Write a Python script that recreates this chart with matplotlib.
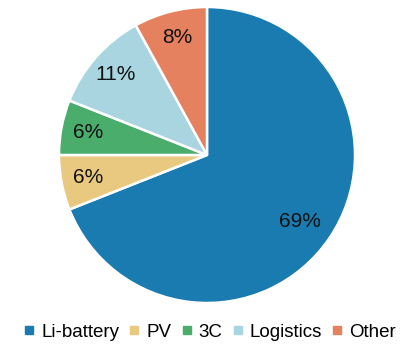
import matplotlib
matplotlib.use("Agg")
import matplotlib.pyplot as plt
from matplotlib.lines import Line2D

categories = ["Li-battery", "PV", "3C", "Logistics", "Other"]
shares = [69, 6, 6, 11, 8]
colors = ["#1a7bb1", "#e9c97f", "#4bad6b", "#a9d5e0", "#e5815f"]

plt.rcParams['font.family'] = ['Liberation Sans', 'DejaVu Sans']

fig = plt.figure(figsize=(4.18, 3.52), dpi=100)
W, H = 418, 352
cx, cy, r = 207, 155, 148
ax = fig.add_axes([(cx - r) / W, (H - cy - r) / H, 2 * r / W, 2 * r / H])

wedges, texts, autotexts = ax.pie(
    shares, colors=colors, startangle=90, counterclock=False,
    autopct=lambda p: f"{p:.0f}%", pctdistance=0.82,
    wedgeprops=dict(edgecolor="white", linewidth=1.8),
    textprops=dict(fontsize=15, color="#111111"))
# big slice label a bit closer to center
autotexts[0].set_position((autotexts[0].get_position()[0] * 0.93,
                           autotexts[0].get_position()[1] * 0.98))
ax.set_xlim(-1, 1)
ax.set_ylim(-1, 1)
ax.set_aspect('equal')
ax.axis('off')

handles = [Line2D([0], [0], marker='s', linestyle='none', markersize=5.5,
                  markerfacecolor=c, markeredgecolor=c) for c in colors]
fig.legend(handles, categories, loc='center', bbox_to_anchor=(0.502, (H - 332) / H),
           ncol=5, frameon=False, fontsize=13.5, handlelength=0.6,
           handletextpad=0.35, columnspacing=0.5, borderaxespad=0)

fig.savefig("out.png", dpi=100)
